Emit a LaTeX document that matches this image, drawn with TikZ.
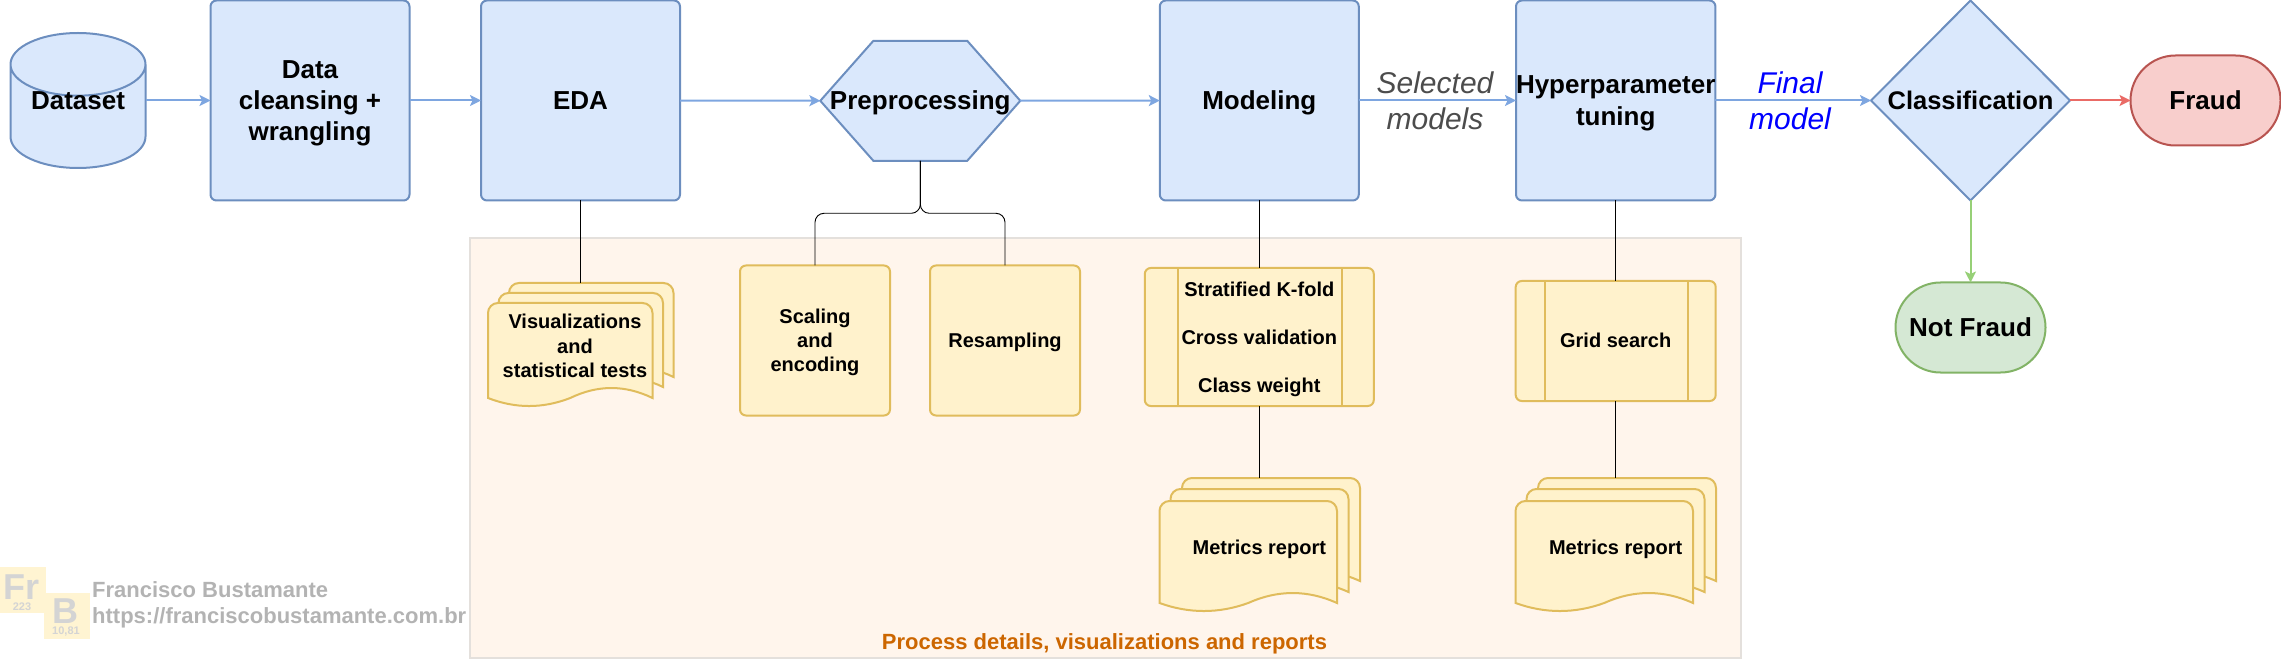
\documentclass[tikz,border=0pt]{standalone}
\usepackage{fontspec}
\setmainfont{Liberation Sans}
\usetikzlibrary{arrows.meta,shapes.geometric,shapes.symbols}

\definecolor{boxfill}{HTML}{DAE8FC}
\definecolor{boxline}{HTML}{6C8EBF}
\definecolor{flowline}{HTML}{7EA6E0}
\definecolor{notefill}{HTML}{FFF2CC}
\definecolor{noteline}{HTML}{E0BC5C}
\definecolor{zonefill}{HTML}{FFF5EC}
\definecolor{zoneline}{HTML}{E4E0DC}
\definecolor{zonetext}{HTML}{CC6600}
\definecolor{redfill}{HTML}{F8CECC}
\definecolor{redline}{HTML}{B85450}
\definecolor{redflow}{HTML}{EA6B66}
\definecolor{greenfill}{HTML}{D5E8D4}
\definecolor{greenline}{HTML}{82B366}
\definecolor{greenflow}{HTML}{97D077}
\definecolor{markgray}{HTML}{B3B3B3}
\definecolor{tilegray}{HTML}{D4D4D4}
\definecolor{tilefill}{HTML}{FFF4D2}

\newcommand{\linestrut}{\rule[-0.25em]{0pt}{1.2em}}

\tikzset{
	>={Stealth[length=11pt,width=11pt,inset=2.5pt]},
	boxtext/.style={align=center,inner sep=0pt,outer sep=0pt},
	bigtext/.style={boxtext,font=\fontsize{26}{31}\selectfont\bfseries},
	smalltext/.style={boxtext,font=\fontsize{20}{24}\selectfont\bfseries},
	edgetext/.style={font=\fontsize{30}{36}\selectfont\itshape,align=center,inner sep=0pt},
	bluebox/.style={bigtext,draw=boxline,fill=boxfill,line width=2pt,rounded corners=6pt,minimum width=199pt,minimum height=200pt},
	yellowbox/.style={smalltext,draw=noteline,fill=notefill,line width=2pt,rounded corners=6pt},
	endbox/.style={bigtext,line width=2pt,rounded corners=45pt,minimum width=150pt,minimum height=90pt},
	flow/.style={->,draw=flowline,line width=2pt},
	detail/.style={draw=black,line width=0.9pt},
	tile/.style={fill=tilefill,minimum width=46pt,minimum height=46pt,inner sep=0pt},
	tilemark/.style={font=\fontsize{36}{36}\selectfont\bfseries,text=tilegray,inner sep=0pt,anchor=base},
	tilenumber/.style={font=\fontsize{11}{11}\selectfont\bfseries,text=tilegray,inner sep=0pt,anchor=base},
	marktext/.style={font=\fontsize{22}{26.5}\selectfont\bfseries,text=markgray,align=left,inner sep=0pt}
}

% one sheet: left, top, width, height of the straight part
\newcommand{\docsheet}[4]{
	\draw[draw=noteline,fill=notefill,line width=2pt]
		(#1,#2+#4) [rounded corners=10pt] -- (#1,#2) -- (#1+#3,#2) [sharp corners] -- (#1+#3,#2+#4)
		.. controls (#1+0.8333*#3,#2+#4-13.3) and (#1+0.6667*#3,#2+#4-13.3) .. (#1+0.5*#3,#2+#4)
		.. controls (#1+0.3333*#3,#2+#4+10.7) and (#1+0.1667*#3,#2+#4+10.7) .. (#1,#2+#4) -- cycle;
}

\begin{document}
\begin{tikzpicture}[x=1pt,y=-1pt]
	\useasboundingbox (0,0) rectangle (2281,660);

	\node[draw=zoneline,fill=zonefill,line width=2pt,minimum width=1271pt,minimum height=420pt] (Zone) at (1105.5,448) {};
	\node[font=\fontsize{22}{26}\selectfont\bfseries,text=zonetext,inner sep=0pt] (ZoneTitle) at (1104.5,644) {Process details, visualizations and reports};

	\node[cylinder,shape border rotate=90,aspect=0.667,draw=boxline,fill=boxfill,line width=2pt,minimum width=135pt,minimum height=135pt,bigtext,cylinder uses custom fill,cylinder end fill=boxfill,cylinder body fill=boxfill,anchor=shape center] (Dataset) at (78,100.5) {\phantom{Dataset}};
	\node[bigtext] (DatasetText) at (78,100.5) {\linestrut Dataset\linestrut};
	\node[bluebox] (Cleansing) at (310,100.5) {\linestrut Data\\cleansing +\\wrangling\linestrut};
	\node[bluebox] (EDA) at (580.5,100.5) {\linestrut EDA\linestrut};
	\node[signal,signal to=west and east,signal pointer angle=97,draw=boxline,fill=boxfill,line width=2pt,minimum width=200pt,minimum height=120pt,bigtext] (Preprocessing) at (920.3,100.8) {\linestrut\makebox[0pt]{Preprocessing}};
	\node[bluebox] (Modeling) at (1259.3,100.5) {\linestrut Modeling\linestrut};
	\node[bluebox] (Hyperparameter) at (1615.7,100.5) {\linestrut Hyperparameter\\tuning\linestrut};
	\node[diamond,draw=boxline,fill=boxfill,line width=2pt,minimum width=199pt,minimum height=200pt,bigtext,font=\fontsize{25.5}{30}\selectfont\bfseries] (Classification) at (1970.5,100.5) {\linestrut\makebox[0pt]{Classification}};
	\node[endbox,draw=redline,fill=redfill] (Fraud) at (2205.5,100.5) {\linestrut Fraud\linestrut};
	\node[endbox,draw=greenline,fill=greenfill] (NotFraud) at (1970.5,327.5) {\linestrut Not Fraud\linestrut};

	\node[edgetext,text=black!70] (Selected) at (1435,100.5) {Selected\\models};
	\node[edgetext,text=blue] (Final) at (1790,100.5) {Final\\model};

	\node[yellowbox,minimum width=150pt,minimum height=150pt] (Scaling) at (815,340.5) {\linestrut Scaling\\and\\encoding\linestrut};
	\node[yellowbox,minimum width=150pt,minimum height=150pt] (Resampling) at (1005,340.5) {\linestrut Resampling\linestrut};
	\node[yellowbox,minimum width=229pt,minimum height=138pt] (Validation) at (1259.3,337) {\linestrut Stratified K-fold\\[24pt]Cross validation\\[24pt]Class weight\linestrut};
	\node[yellowbox,minimum width=200pt,minimum height=120pt] (Grid) at (1615.7,341) {\linestrut Grid search\linestrut};
	\draw[draw=noteline,line width=2pt] ([xshift=33pt]Validation.north west) -- ([xshift=33pt]Validation.south west);
	\draw[draw=noteline,line width=2pt] ([xshift=-32pt]Validation.north east) -- ([xshift=-32pt]Validation.south east);
	\draw[draw=noteline,line width=2pt] ([xshift=29pt]Grid.north west) -- ([xshift=29pt]Grid.south west);
	\draw[draw=noteline,line width=2pt] ([xshift=-28pt]Grid.north east) -- ([xshift=-28pt]Grid.south east);

	\node[minimum width=185pt,minimum height=123pt,inner sep=0pt] (VisualDocs) at (580.5,344.5) {};
	\docsheet{509}{283}{164.5}{94}
	\docsheet{498.5}{293}{164.5}{94}
	\docsheet{488}{303}{164.5}{95}
	\node[smalltext] (VisualText) at (575,346) {\linestrut Visualizations\\and\\statistical tests\linestrut};

	\node[minimum width=200pt,minimum height=134pt,inner sep=0pt] (ModelDocs) at (1259.3,545) {};
	\docsheet{1182}{478}{178}{103}
	\docsheet{1170.5}{489}{178}{103}
	\docsheet{1159.5}{501}{177.5}{102}
	\node[smalltext] (ModelText) at (1259.3,547) {\linestrut Metrics report\linestrut};

	\node[minimum width=200pt,minimum height=134pt,inner sep=0pt] (TuningDocs) at (1615.7,545) {};
	\docsheet{1538}{478}{178}{103}
	\docsheet{1526.5}{489}{178}{103}
	\docsheet{1515.5}{501}{177.5}{102}
	\node[smalltext] (TuningText) at (1615.7,547) {\linestrut Metrics report\linestrut};

	\draw[flow] (DatasetText -| Dataset.east) to (Cleansing);
	\draw[flow] (Cleansing) to (EDA);
	\draw[flow] (EDA) to (Preprocessing);
	\draw[flow] (Preprocessing) to (Modeling);
	\draw[flow] (Modeling) to (Hyperparameter);
	\draw[flow] (Hyperparameter) to (Classification);
	\draw[->,draw=redflow,line width=2pt] (Classification) to (Fraud);
	\draw[->,draw=greenflow,line width=2pt] (Classification) to (NotFraud);

	\draw[detail] (EDA) to (VisualDocs);
	\draw[detail,rounded corners=9pt] (Preprocessing.south) -- ++(0,52.5) -| (Scaling.north);
	\draw[detail,rounded corners=9pt] (Preprocessing.south) -- ++(0,52.5) -| (Resampling.north);
	\draw[detail] (Modeling) to (Validation);
	\draw[detail] (Validation) to (ModelDocs);
	\draw[detail] (Hyperparameter) to (Grid);
	\draw[detail] (Grid) to (TuningDocs);

	\node[tile] (FrTile) at (23,590) {};
	\node[tile] (BTile) at (67,616) {};
	\node[tilemark] (FrMark) at (22,599) {Fr};
	\node[tilenumber] (FrNumber) at (22,610) {223};
	\node[tilemark] (BMark) at (65,623) {B};
	\node[tilenumber] (BNumber) at (66,634) {10,81};
	\node[marktext,anchor=west] (Credit) at (92,605) {Francisco Bustamante\\https://franciscobustamante.com.br};
\end{tikzpicture}
\end{document}
